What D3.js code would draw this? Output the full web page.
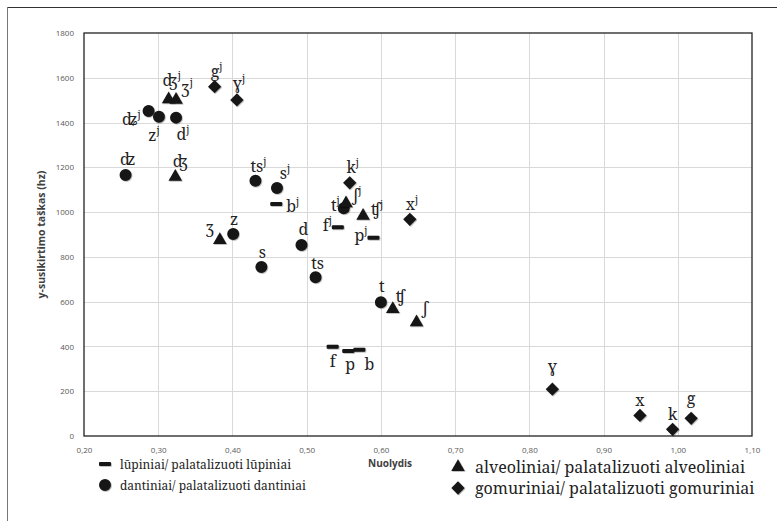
<!DOCTYPE html>
<html>
<head>
<meta charset="utf-8">
<script src="https://cdn.jsdelivr.net/npm/d3@7"></script>
<style>
  body { margin: 0; background: #fff; }
  .lbl { font-family: "Noto Serif", "Liberation Serif", "DejaVu Serif", serif; }
</style>
</head>
<body>
<div id="chart"></div>
<script>
// lūpiniai (labial) – dash markers
const labialLabels = ['bʲ', 'fʲ', 'pʲ', 'f', 'p', 'b'];
const labialX = [0.459, 0.542, 0.590, 0.535, 0.556, 0.571];
const labialY = [1036, 932, 886, 399, 380, 385];

// dantiniai (dental) – circles
const dentalLabels = ['ʥʲ', 'zʲ', 'dʲ', 'ʣ', 'tsʲ', 'sʲ', 'z', 's', 'd', 'ts', 'tʲ', 't'];
const dentalX = [0.287, 0.301, 0.324, 0.256, 0.431, 0.460, 0.401, 0.439, 0.493, 0.512, 0.550, 0.600];
const dentalY = [1452, 1426, 1422, 1166, 1140, 1108, 902, 755, 853, 709, 1017, 597];

// alveoliniai (alveolar) – triangles
const alveolarLabels = ['ʤʲ', 'ʒʲ', 'ʤ', 'ʒ', 'ʃʲ', 'ʧʲ', 'ʧ', 'ʃ'];
const alveolarX = [0.314, 0.324, 0.323, 0.383, 0.553, 0.576, 0.616, 0.648];
const alveolarY = [1504, 1501, 1158, 875, 1039, 983, 567, 508];

// gomuriniai (velar) – diamonds
const velarLabels = ['gʲ', 'ɣʲ', 'kʲ', 'xʲ', 'ɣ', 'x', 'k', 'g'];
const velarX = [0.376, 0.406, 0.558, 0.639, 0.831, 0.949, 0.993, 1.018];
const velarY = [1560, 1501, 1131, 968, 209, 92, 30, 79];

// axis ticks
const xTicks = [0.2, 0.3, 0.4, 0.5, 0.6, 0.7, 0.8, 0.9, 1.0, 1.1];
const yTicks = [0, 200, 400, 600, 800, 1000, 1200, 1400, 1600, 1800];

const groupNames = ['lūpiniai/ palatalizuoti lūpiniai', 'dantiniai/ palatalizuoti dantiniai',
                    'alveoliniai/ palatalizuoti alveoliniai', 'gomuriniai/ palatalizuoti gomuriniai'];

// label placement next to each marker: [dx, dy, anchor]
const labelPos = {
  'bʲ': [10, 8, 'start'], 'fʲ': [-6, 4, 'end'], 'pʲ': [-6, 3, 'end'],
  'f': [0, 20, 'middle'], 'p': [2, 19, 'middle'], 'b': [10, 20, 'middle'],
  'ʥʲ': [-8, 14, 'end'], 'zʲ': [-5, 24, 'middle'], 'dʲ': [7, 22, 'middle'],
  'ʣ': [2, -10, 'middle'], 'tsʲ': [3, -9, 'middle'], 'sʲ': [8, -9, 'middle'],
  'z': [1, -9, 'middle'], 's': [1, -9, 'middle'], 'd': [2, -10, 'middle'],
  'ts': [2, -8, 'middle'], 'tʲ': [-4, 3, 'end'], 't': [1, -10, 'middle'],
  'ʤʲ': [3, -13, 'middle'], 'ʒʲ': [5, -7, 'start'], 'ʤ': [5, -10, 'middle'],
  'ʒ': [-10, -7, 'middle'], 'ʃʲ': [7, -2, 'start'], 'ʧʲ': [8, -1, 'start'],
  'ʧ': [3, -7, 'start'], 'ʃ': [6, -8, 'start'],
  'gʲ': [2, -10, 'middle'], 'ɣʲ': [2, -11, 'middle'], 'kʲ': [3, -10, 'middle'],
  'xʲ': [2, -9, 'middle'], 'ɣ': [0, -17, 'middle'], 'x': [0, -9, 'middle'],
  'k': [0, -9, 'middle'], 'g': [0, -14, 'middle']
};

const width = 777, height = 521;
const margin = {t: 33, r: 25, b: 85, l: 84};
const w = width - margin.l - margin.r;
const h = height - margin.t - margin.b;

const svg = d3.select('#chart').append('svg')
  .attr('width', width)
  .attr('height', height);

// soft shadow like the office chart markers
const defs = svg.append('defs');
defs.append('filter')
  .attr('id', 'shadow')
  .attr('x', '-50%').attr('y', '-50%').attr('width', '200%').attr('height', '200%')
  .append('feDropShadow')
  .attr('dx', 0.8).attr('dy', 0.8)
  .attr('stdDeviation', 0.6)
  .attr('flood-color', '#000')
  .attr('flood-opacity', 0.3);

// outer frame (top and left visible)
svg.append('line').attr('x1', 7).attr('x2', width).attr('y1', 7.5).attr('y2', 7.5)
  .attr('stroke', '#333').attr('stroke-width', 1);
svg.append('line').attr('x1', 7.5).attr('x2', 7.5).attr('y1', 7).attr('y2', height)
  .attr('stroke', '#777').attr('stroke-width', 1);

const plot = svg.append('g')
  .attr('transform', `translate(${margin.l},${margin.t})`);

const scaleX = d3.scaleLinear().domain([0.2, 1.1]).range([0, w]);
const scaleY = d3.scaleLinear().domain([0, 1800]).range([h, 0]);

// gridlines
plot.append('g').attr('class', 'grid-x')
  .selectAll('line').data(xTicks.slice(1, -1))
  .join('line')
  .attr('x1', d => Math.round(scaleX(d)) + 0.5).attr('x2', d => Math.round(scaleX(d)) + 0.5)
  .attr('y1', 0).attr('y2', h)
  .attr('stroke', '#d9d9d9');
plot.append('g').attr('class', 'grid-y')
  .selectAll('line').data(yTicks.slice(1, -1))
  .join('line')
  .attr('x1', 0).attr('x2', w)
  .attr('y1', d => Math.round(scaleY(d)) + 0.5).attr('y2', d => Math.round(scaleY(d)) + 0.5)
  .attr('stroke', '#d9d9d9');

// plot border
plot.append('rect')
  .attr('x', 0).attr('y', 0).attr('width', w).attr('height', h)
  .attr('fill', 'none').attr('stroke', '#222').attr('stroke-width', 1.3);

// axes
const fmt = d3.format('.2f');
const axisX = d3.axisBottom(scaleX)
  .tickValues(xTicks)
  .tickSize(0)
  .tickPadding(11)
  .tickFormat(d => fmt(d).replace('.', ','));
const axisY = d3.axisLeft(scaleY)
  .tickValues(yTicks)
  .tickSize(0)
  .tickPadding(10)
  .tickFormat(d3.format('d'));

const axisXNode = plot.append('g')
  .attr('transform', `translate(0,${h})`)
  .call(axisX);
const axisYNode = plot.append('g').call(axisY);
[axisXNode, axisYNode].forEach(node => {
  node.select('.domain').remove();
  node.selectAll('text')
    .attr('font-family', '"Open Sans", "Liberation Sans", sans-serif')
    .attr('font-size', 8)
    .attr('fill', '#595959');
});

// axis titles
svg.append('text')
  .attr('x', 390)
  .attr('y', 467)
  .attr('text-anchor', 'middle')
  .attr('font-family', '"Open Sans", "Liberation Sans", sans-serif')
  .attr('font-weight', 'bold')
  .attr('font-size', 10)
  .attr('fill', '#404040')
  .text('Nuolydis');
svg.append('text')
  .attr('transform', `translate(45,${margin.t + h / 2}) rotate(-90)`)
  .attr('text-anchor', 'middle')
  .attr('font-family', '"Open Sans", "Liberation Sans", sans-serif')
  .attr('font-weight', 'bold')
  .attr('font-size', 10.5)
  .attr('fill', '#404040')
  .text('y-susikirtimo taškas (hz)');

// marker shapes
const markerFill = '#151515';
const shapes = [
  g => g.append('rect').attr('x', -6).attr('y', -2).attr('width', 12).attr('height', 4).attr('rx', 1),
  g => g.append('path').attr('d', d3.symbol(d3.symbolCircle, 113)()),
  g => g.append('path').attr('d', d3.symbol(d3.symbolTriangle, 80)()),
  g => g.append('path').attr('d', d3.symbol(d3.symbolSquare, 88)()).attr('transform', 'rotate(45)')
];

const groups = [
  {labels: labialLabels, xs: labialX, ys: labialY},
  {labels: dentalLabels, xs: dentalX, ys: dentalY},
  {labels: alveolarLabels, xs: alveolarX, ys: alveolarY},
  {labels: velarLabels, xs: velarX, ys: velarY}
];

function writeLabel(sel, label) {
  const sup = label.endsWith('ʲ');
  const base = sup ? label.slice(0, -1) : label;
  sel.append('tspan').text(base);
  if (sup) {
    sel.append('tspan')
      .attr('font-size', 10.5)
      .attr('dy', -7)
      .text('j');
  }
}

groups.forEach((grp, gi) => {
  const data = grp.labels.map((l, i) => ({label: l, x: grp.xs[i], y: grp.ys[i]}));
  const pts = plot.append('g').attr('class', 'series-' + gi)
    .selectAll('.pt').data(data)
    .join('g')
    .attr('class', 'pt')
    .attr('transform', d => `translate(${scaleX(d.x)},${scaleY(d.y)})`);
  pts.each(function () {
    const g = d3.select(this).append('g')
      .attr('fill', markerFill)
      .attr('filter', 'url(#shadow)');
    shapes[gi](g);
  });
  pts.append('text')
    .attr('class', 'lbl')
    .attr('x', d => labelPos[d.label][0])
    .attr('y', d => labelPos[d.label][1])
    .attr('text-anchor', d => labelPos[d.label][2])
    .attr('font-size', 16)
    .attr('fill', '#222')
    .each(function (d) { writeLabel(d3.select(this), d.label); });
});

// legend: left column set smaller than right column, as in the source
const legendPos = [[105, 464], [105, 485], [458, 467], [458, 488]];
const legendSize = [12, 12, 16, 16];
const legend = svg.append('g').attr('class', 'legend');
groupNames.forEach((name, i) => {
  const item = legend.append('g')
    .attr('transform', `translate(${legendPos[i][0]},${legendPos[i][1]})`);
  const m = item.append('g').attr('fill', markerFill).attr('filter', 'url(#shadow)');
  shapes[i](m);
  item.append('text')
    .attr('class', 'lbl')
    .attr('x', i < 2 ? 15 : 17)
    .attr('y', i < 2 ? 4.5 : 5.5)
    .attr('font-size', legendSize[i])
    .attr('fill', '#222')
    .text(name);
});
</script>
</body>
</html>
